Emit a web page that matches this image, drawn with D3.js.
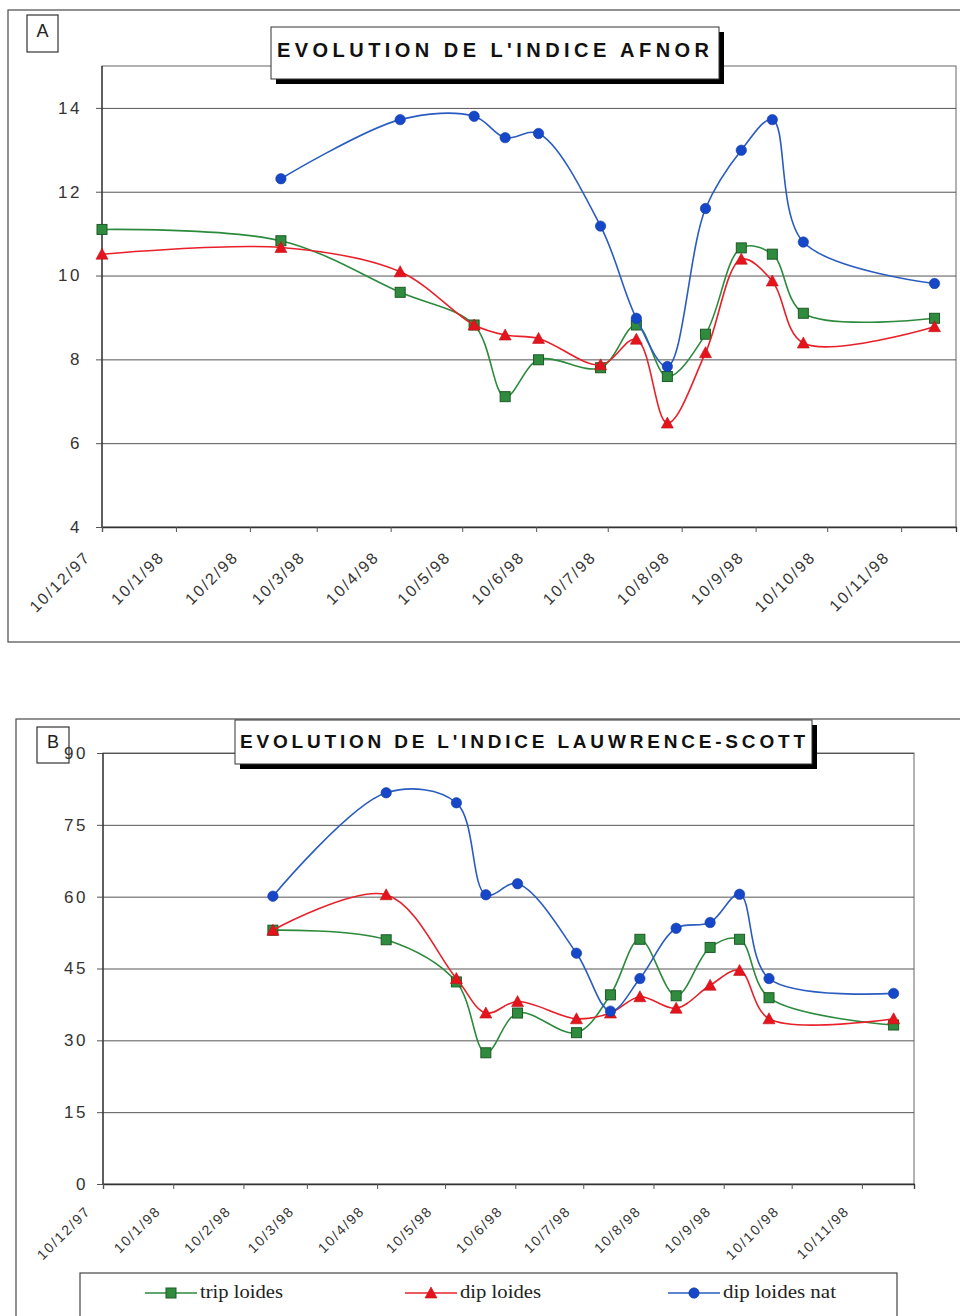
<!DOCTYPE html>
<html>
<head>
<meta charset="utf-8">
<script src="https://cdn.jsdelivr.net/npm/d3@7"></script>
<style>
  html, body { margin: 0; padding: 0; background: #fff; }
  svg { display: block; }
</style>
</head>
<body>
<svg id="chart" width="960" height="1316"></svg>
<script>
// Sampling dates (d/m/yy in the original notebook)
const sampleDates = ["1997-12-10","1998-02-23","1998-04-14","1998-05-15","1998-05-28","1998-06-11",
  "1998-07-07","1998-07-22","1998-08-04","1998-08-20","1998-09-04","1998-09-17","1998-09-30","1998-11-24"];

// Month ticks shown on the time axis
const tickDates = ["1997-12-10","1998-01-10","1998-02-10","1998-03-10","1998-04-10","1998-05-10",
  "1998-06-10","1998-07-10","1998-08-10","1998-09-10","1998-10-10","1998-11-10"];
const tickLabels = ["10/12/97","10/1/98","10/2/98","10/3/98","10/4/98","10/5/98",
  "10/6/98","10/7/98","10/8/98","10/9/98","10/10/98","10/11/98"];
const axisEnd = "1998-12-03";

// AFNOR index
const afnorTriploides = [11.1, 10.83, 9.6, 8.82, 7.11, 7.99, 7.8, 8.82, 7.59, 8.6, 10.66, 10.51, 9.1, 8.98];
const afnorDiploides  = [10.51, 10.67, 10.09, 8.82, 8.58, 8.5, 7.87, 8.48, 6.48, 8.16, 10.39, 9.87, 8.39, 8.78];
const afnorDiploidesNat = [null, 12.31, 13.72, 13.8, 13.29, 13.39, 11.18, 8.98, 7.83, 11.6, 12.99, 13.72, 10.8, 9.81];
const afnorTicks = [4, 6, 8, 10, 12, 14];

// Lawrence-Scott index
const lsTriploides = [null, 53.0, 51.0, 42.2, 27.4, 35.7, 31.6, 39.5, 51.1, 39.3, 49.4, 51.1, 38.9, 33.2];
const lsDiploides  = [null, 53.0, 60.4, 42.9, 35.7, 38.1, 34.5, 35.7, 39.1, 36.7, 41.5, 44.6, 34.5, 34.5];
const lsDiploidesNat = [null, 60.1, 81.7, 79.6, 60.4, 62.7, 48.2, 36.1, 42.9, 53.4, 54.6, 60.5, 42.9, 39.8];
const lsTicks = [0, 15, 30, 45, 60, 75, 90];

const seriesNames = ["trip loides", "dip loides", "dip loides nat"];

const parse = d3.timeParse("%Y-%m-%d");
const dates = sampleDates.map(parse);

const COLORS = {
  tri: { line: "#2b8a3c", fill: "#2f8c3e", stroke: "#1d5a26" },
  dip: { line: "#e8202a", fill: "#e5141c", stroke: "#c0101a" },
  nat: { line: "#2a5cc0", fill: "#1747c9", stroke: "#123a9e" }
};

const svg = d3.select("#chart");
const FONT = "Arial, 'Liberation Sans', Helvetica, sans-serif";

function marker(g, type, x, y, c) {
  if (type === "tri") {
    g.append("rect").attr("x", x - 5).attr("y", y - 5).attr("width", 10).attr("height", 10)
      .attr("fill", c.fill).attr("stroke", c.stroke).attr("stroke-width", 1);
  } else if (type === "dip") {
    g.append("path").attr("d", `M${x},${y - 6}L${x + 6},${y + 5}L${x - 6},${y + 5}Z`)
      .attr("fill", c.fill).attr("stroke", c.stroke).attr("stroke-width", 0.6);
  } else {
    g.append("circle").attr("cx", x).attr("cy", y).attr("r", 5.2)
      .attr("fill", c.fill).attr("stroke", c.stroke).attr("stroke-width", 0.6);
  }
}

function drawPanel(cfg) {
  const g = svg.append("g");
  const x = d3.scaleTime().domain([parse(sampleDates[0]), parse(axisEnd)]).range([cfg.left, cfg.right]);
  const y = d3.scaleLinear().domain(cfg.yDomain).range([cfg.bottom, cfg.top]);

  // outer frame
  g.append("rect").attr("x", cfg.frame[0]).attr("y", cfg.frame[1])
    .attr("width", cfg.frame[2]).attr("height", cfg.frame[3])
    .attr("fill", "none").attr("stroke", "#4a4a4a").attr("stroke-width", 1.2);

  // panel letter box
  g.append("rect").attr("x", cfg.letterBox[0]).attr("y", cfg.letterBox[1])
    .attr("width", cfg.letterBox[2]).attr("height", cfg.letterBox[3])
    .attr("fill", "#fff").attr("stroke", "#333").attr("stroke-width", 1.2);
  g.append("text").attr("x", cfg.letterBox[0] + cfg.letterBox[2] / 2)
    .attr("y", cfg.letterBox[1] + cfg.letterBox[3] / 2 - 3)
    .attr("text-anchor", "middle").attr("dy", "0.35em")
    .attr("font-family", FONT).attr("font-size", 18).attr("fill", "#222").text(cfg.letter);

  // plot area
  g.append("rect").attr("x", cfg.left).attr("y", cfg.top)
    .attr("width", cfg.right - cfg.left).attr("height", cfg.bottom - cfg.top)
    .attr("fill", "none").attr("stroke", "#666").attr("stroke-width", 1);

  // horizontal gridlines + y axis
  const yAxis = d3.axisLeft(y).tickValues(cfg.yTicks).tickSize(-(cfg.right - cfg.left)).tickPadding(0)
    .tickFormat(d3.format("d"));
  const ya = g.append("g").attr("transform", `translate(${cfg.left},0)`).call(yAxis);
  ya.select(".domain").remove();
  ya.selectAll(".tick line").attr("stroke", "#555").attr("stroke-width", 1).attr("x1", -6);
  ya.selectAll(".tick text").attr("x", cfg.yLabelX - cfg.left).attr("font-family", FONT)
    .attr("font-size", 17).attr("fill", "#333").attr("letter-spacing", "2.5px");

  // x axis
  const xAxis = d3.axisBottom(x).tickValues(tickDates.map(parse)).tickSize(5)
    .tickFormat((d, i) => tickLabels[i]);
  const xa = g.append("g").attr("transform", `translate(0,${cfg.bottom})`).call(xAxis);
  xa.select(".domain").attr("stroke", "#333").attr("stroke-width", 1.3);
  xa.selectAll(".tick line").attr("stroke", "#555");
  xa.selectAll(".tick text")
    .attr("text-anchor", "end").attr("dy", null).attr("y", null)
    .attr("transform", `translate(${cfg.xLabelDx},${cfg.xLabelDy}) rotate(-45)`)
    .attr("font-family", FONT).attr("font-size", cfg.xFont).attr("fill", "#333")
    .attr("letter-spacing", cfg.xSpacing);

  // left axis line
  g.append("line").attr("x1", cfg.left).attr("x2", cfg.left).attr("y1", cfg.top).attr("y2", cfg.bottom)
    .attr("stroke", "#333").attr("stroke-width", 1.3);

  // series
  const line = d3.line()
    .defined(d => d.v != null)
    .x(d => x(d.date)).y(d => y(d.v))
    .curve(d3.curveCatmullRom.alpha(0.5));

  cfg.series.forEach(s => {
    const data = dates.map((d, i) => ({ date: d, v: s.values[i] }));
    const c = COLORS[s.type];
    g.append("path").datum(data).attr("d", line)
      .attr("fill", "none").attr("stroke", c.line).attr("stroke-width", 1.6);
    const mg = g.append("g");
    data.filter(d => d.v != null).forEach(d => marker(mg, s.type, x(d.date), y(d.v), c));
  });

  // title box with drop shadow
  const tb = cfg.titleBox;
  g.append("rect").attr("x", tb[0] + 5).attr("y", tb[1] + 5).attr("width", tb[2]).attr("height", tb[3])
    .attr("fill", "#000");
  g.append("rect").attr("x", tb[0]).attr("y", tb[1]).attr("width", tb[2]).attr("height", tb[3])
    .attr("fill", "#fff").attr("stroke", "#333").attr("stroke-width", 1);
  g.append("text").attr("x", cfg.titleX).attr("y", cfg.titleY)
    .attr("font-family", FONT).attr("font-weight", "bold").attr("font-size", cfg.titleFont)
    .attr("fill", "#111").attr("textLength", cfg.titleLen).attr("lengthAdjust", "spacing")
    .text(cfg.title);
}

drawPanel({
  letter: "A",
  frame: [8, 10, 970, 632],
  letterBox: [27, 15, 31, 37],
  left: 102, right: 956, top: 66, bottom: 527,
  yDomain: [4, 15], yTicks: afnorTicks, yLabelX: 82,
  xLabelDx: -11, xLabelDy: 31, xFont: 16, xSpacing: "2px",
  titleBox: [271, 27, 448, 52], titleX: 277, titleY: 57, titleFont: 20, titleLen: 432,
  title: "EVOLUTION DE L'INDICE AFNOR",
  series: [
    { type: "tri", values: afnorTriploides },
    { type: "dip", values: afnorDiploides },
    { type: "nat", values: afnorDiploidesNat }
  ]
});

drawPanel({
  letter: "B",
  frame: [16, 719, 970, 640],
  letterBox: [37, 727, 32, 36],
  left: 103, right: 914, top: 753, bottom: 1184,
  yDomain: [0, 90], yTicks: lsTicks, yLabelX: 88,
  xLabelDx: -12, xLabelDy: 28, xFont: 14, xSpacing: "1.8px",
  titleBox: [235, 720, 577, 44], titleX: 240, titleY: 748, titleFont: 19, titleLen: 565,
  title: "EVOLUTION DE L'INDICE LAUWRENCE-SCOTT",
  series: [
    { type: "tri", values: lsTriploides },
    { type: "dip", values: lsDiploides },
    { type: "nat", values: lsDiploidesNat }
  ]
});

// legend
const legend = svg.append("g");
legend.append("rect").attr("x", 80).attr("y", 1273).attr("width", 817).attr("height", 60)
  .attr("fill", "#fff").attr("stroke", "#444").attr("stroke-width", 1.2);
const legendItems = [
  { type: "tri", x0: 145, len: 83 },
  { type: "dip", x0: 405, len: 81 },
  { type: "nat", x0: 668, len: 113 }
];
legendItems.forEach((it, i) => {
  const c = COLORS[it.type];
  legend.append("line").attr("x1", it.x0).attr("x2", it.x0 + 52).attr("y1", 1293).attr("y2", 1293)
    .attr("stroke", c.line).attr("stroke-width", 1.6);
  marker(legend, it.type, it.x0 + 26, 1293, c);
  legend.append("text").attr("x", it.x0 + 55).attr("y", 1298)
    .attr("font-family", "'Liberation Serif', 'DejaVu Serif', serif").attr("font-size", 18)
    .attr("fill", "#222").attr("textLength", it.len).attr("lengthAdjust", "spacingAndGlyphs")
    .text(seriesNames[i]);
});
</script>
</body>
</html>
